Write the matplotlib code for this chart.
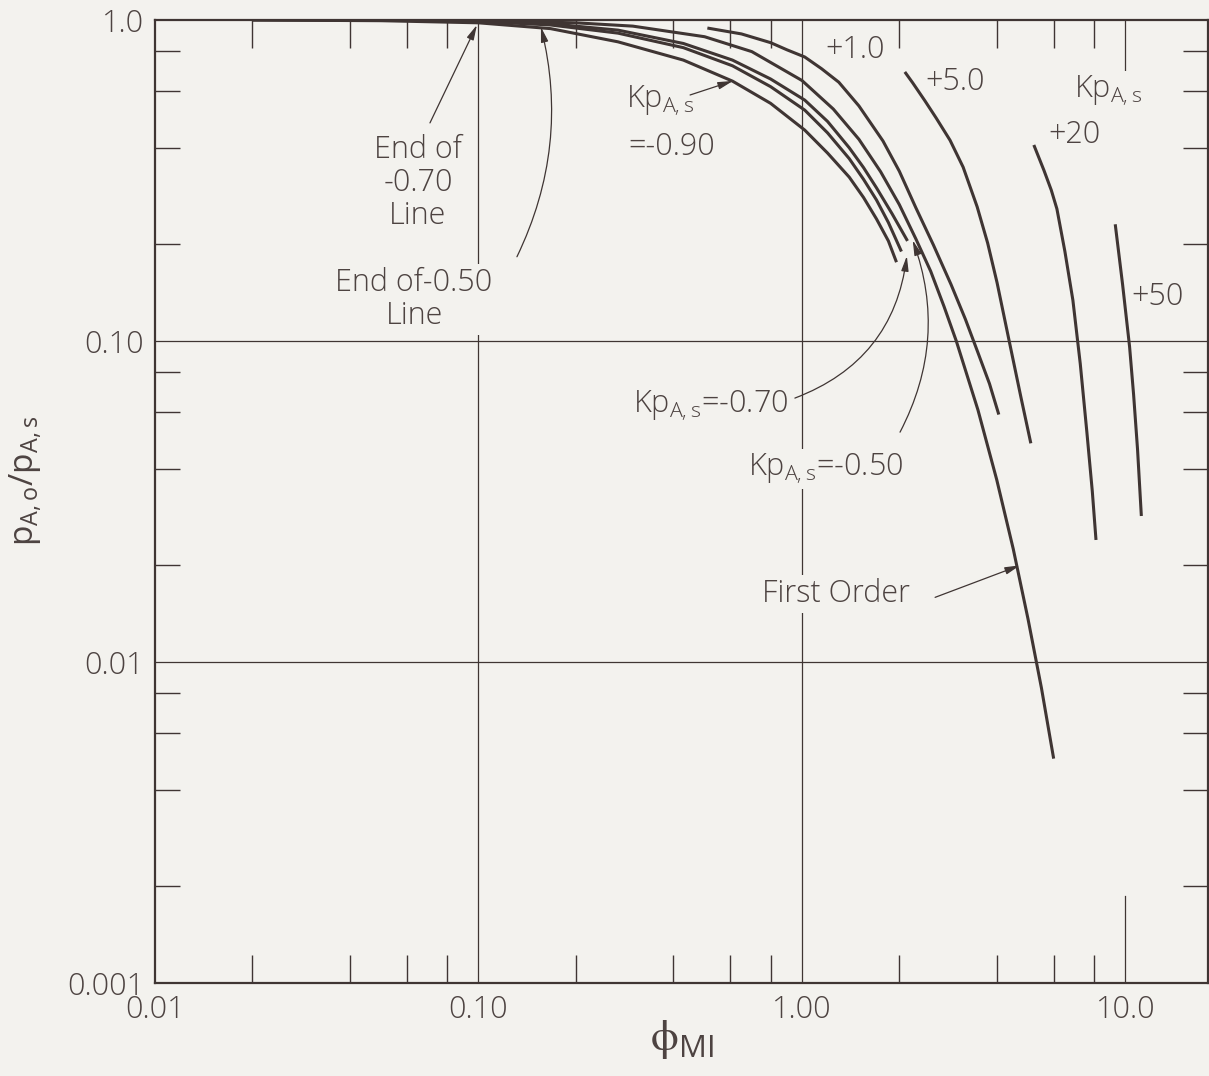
import matplotlib
matplotlib.use("Agg")
import matplotlib.pyplot as plt
from matplotlib.ticker import FixedLocator, NullFormatter, FixedFormatter

# ---------------- data ----------------
first_order_phi = [0.02, 0.1, 0.2, 0.3, 0.5, 0.7, 1.0, 1.25, 1.5, 1.75, 2.0, 2.25, 2.5, 2.75, 3.0,
                   3.5, 4.0, 4.5, 5.0, 5.5, 6.0]
first_order_p = [1.0, 0.995, 0.98, 0.957, 0.887, 0.797, 0.648, 0.528, 0.425, 0.337, 0.266, 0.208,
                 0.165, 0.128, 0.100, 0.061, 0.037, 0.0225, 0.0136, 0.0083, 0.005]

k_m090_phi = [0.02, 0.05, 0.1, 0.167, 0.27, 0.43, 0.61, 0.8, 1.02, 1.2, 1.4, 1.55, 1.7, 1.85, 1.96]
k_m090_p = [1.0, 0.995, 0.98, 0.94, 0.855, 0.75, 0.645, 0.55, 0.454, 0.385, 0.324, 0.28, 0.24, 0.205, 0.176]

k_m070_phi = [0.1, 0.167, 0.27, 0.43, 0.61, 0.8, 1.02, 1.2, 1.4, 1.55, 1.7, 1.85, 2.03]
k_m070_p = [0.99, 0.965, 0.91, 0.82, 0.72, 0.62, 0.524, 0.445, 0.37, 0.319, 0.275, 0.234, 0.19]

k_m050_phi = [0.155, 0.27, 0.43, 0.61, 0.8, 1.02, 1.2, 1.4, 1.55, 1.7, 1.9, 2.12]
k_m050_p = [0.98, 0.93, 0.845, 0.75, 0.655, 0.563, 0.483, 0.40, 0.347, 0.30, 0.249, 0.205]

k_p1_phi = [0.51, 0.65, 0.8, 0.9, 1.02, 1.15, 1.3, 1.5, 1.78, 2.0, 2.25, 2.55, 2.89, 3.2, 3.5, 3.8, 4.06]
k_p1_p = [0.944, 0.905, 0.85, 0.807, 0.767, 0.705, 0.64, 0.54, 0.42, 0.338, 0.26, 0.199, 0.15, 0.117,
          0.092, 0.0736, 0.059]

k_p5_phi = [2.08, 2.2, 2.4, 2.6, 2.87, 3.15, 3.48, 3.75, 4.01, 4.39, 4.75, 5.1]
k_p5_p = [0.689, 0.637, 0.56, 0.495, 0.422, 0.348, 0.262, 0.202, 0.152, 0.098, 0.067, 0.048]

k_p20_phi = [5.21, 5.6, 5.9, 6.14, 6.5, 6.88, 7.25, 7.6, 7.9, 8.11]
k_p20_p = [0.408, 0.34, 0.295, 0.258, 0.19, 0.134, 0.085, 0.052, 0.034, 0.024]

k_p50_phi = [9.3, 9.8, 10.3, 10.6, 10.9, 11.2]
k_p50_p = [0.231, 0.15, 0.096, 0.068, 0.046, 0.0285]

x_major = [0.01, 0.1, 1.0, 10.0]
x_major_labels = ["0.01", "0.10", "1.00", "10.0"]
y_major = [0.001, 0.01, 0.1, 1.0]
y_major_labels = ["0.001", "0.01", "0.10", "1.0"]

# ---------------- style ----------------
BG = "#f3f2ee"
INK = "#3f3533"
TXT = "#4d4341"
FONT = ["Open Sans", "DejaVu Sans"]
FS = 22

plt.rcParams["font.family"] = FONT
plt.rcParams["font.weight"] = "light"
plt.rcParams["mathtext.default"] = "regular"
plt.rcParams["mathtext.fontset"] = "cm"

fig = plt.figure(figsize=(12.09, 10.76), dpi=100, facecolor=BG)
ax = fig.add_axes([155 / 1209, 1 - 983 / 1076, 1053 / 1209, 963 / 1076])
ax.set_facecolor(BG)
ax.set_xscale("log")
ax.set_yscale("log")
ax.set_xlim(0.01, 18.0)
ax.set_ylim(0.001, 1.0)

for s in ax.spines.values():
    s.set_color(INK)
    s.set_linewidth(1.6)

# major ticks: labels only
ax.xaxis.set_major_locator(FixedLocator(x_major))
ax.xaxis.set_major_formatter(FixedFormatter(x_major_labels))
ax.yaxis.set_major_locator(FixedLocator(y_major))
ax.yaxis.set_major_formatter(FixedFormatter(y_major_labels))
ax.tick_params(which="major", length=0, pad=8, labelsize=FS, colors=TXT)

x_minor = [m * d for d in (0.01, 0.1, 1.0, 10.0) for m in (2, 4, 6, 8) if m * d < 18]
y_minor = [m * d for d in (0.001, 0.01, 0.1) for m in (2, 4, 6, 8)]
ax.xaxis.set_minor_locator(FixedLocator(x_minor))
ax.yaxis.set_minor_locator(FixedLocator(y_minor))
ax.xaxis.set_minor_formatter(NullFormatter())
ax.yaxis.set_minor_formatter(NullFormatter())
ax.tick_params(which="minor", axis="x", direction="in", length=20, width=1.0,
               color=INK, top=True, bottom=True)
ax.tick_params(which="minor", axis="y", direction="in", length=18, width=1.0,
               color=INK, left=True, right=True)

# grid lines
for xv in (0.1, 1.0):
    ax.axvline(xv, color=INK, lw=0.9, zorder=1)
for yv in (0.1, 0.01):
    ax.axhline(yv, color=INK, lw=0.9, zorder=1)
ax.axvline(10.0, ymin=0, ymax=0.09, color=INK, lw=0.9, zorder=1)
ax.axvline(10.0, ymin=1 - 0.057, ymax=1, color=INK, lw=0.9, zorder=1)

# curves (above the text boxes, which only break the grid lines)
LW = 2.2
for xs, ys in [(first_order_phi, first_order_p), (k_m090_phi, k_m090_p),
               (k_m070_phi, k_m070_p), (k_m050_phi, k_m050_p),
               (k_p1_phi, k_p1_p), (k_p5_phi, k_p5_p),
               (k_p20_phi, k_p20_p), (k_p50_phi, k_p50_p)]:
    ax.plot(xs, ys, color=INK, lw=LW, solid_capstyle="butt", solid_joinstyle="round", zorder=6)

bbox = dict(boxstyle="square,pad=0.1", fc=BG, ec="none")


def txt(x, y, s, ha="center", va="center", **kw):
    ax.text(x, y, s, ha=ha, va=va, fontsize=FS, color=TXT, bbox=bbox, zorder=4, **kw)


txt(1.46, 0.806, "+1.0")
txt(2.97, 0.641, "+5.0")
txt(8.83, 0.60, r"$Kp_{A,s}$")
txt(6.98, 0.438, "+20")
txt(12.6, 0.137, "+50")
txt(0.364, 0.56, r"$Kp_{A,s}$")
txt(0.396, 0.402, "=-0.90")
txt(0.065, 0.311, "End of\n-0.70\nLine", linespacing=1.05)
txt(0.0632, 0.135, "End of-0.50\nLine", linespacing=1.05)
txt(0.905, 0.063, r"$Kp_{A,s}$=-0.70", ha="right")
txt(2.06, 0.040, r"$Kp_{A,s}$=-0.50", ha="right")
txt(1.27, 0.0163, "First Order")

ap = dict(arrowstyle="-|>,head_length=0.9,head_width=0.22", color=INK, lw=0.9,
          shrinkA=0, shrinkB=0)


def arrow(xy, xytext, rad=0.0):
    a = dict(ap)
    a["connectionstyle"] = "arc3,rad=%g" % rad
    ax.annotate("", xy=xy, xytext=xytext, arrowprops=a, zorder=5)


arrow((0.0989, 0.965), (0.0708, 0.478))
arrow((0.156, 0.951), (0.1315, 0.183), rad=0.18)
arrow((0.612, 0.646), (0.451, 0.584))
arrow((2.11, 0.184), (0.951, 0.0664), rad=0.3)
arrow((2.20, 0.206), (2.01, 0.052), rad=0.22)
arrow((4.72, 0.020), (2.58, 0.0159))

ax.set_xlabel(r"$\phi_{\mathregular{MI}}$", fontsize=32, color=TXT)
ax.xaxis.set_label_coords(0.5, -0.035)
ax.set_ylabel(r"$p_{A,o}/p_{A,s}$", fontsize=24, color=TXT)
ax.yaxis.set_label_coords(-0.105, 0.522)

fig.savefig("out.png", dpi=100, facecolor=BG)
